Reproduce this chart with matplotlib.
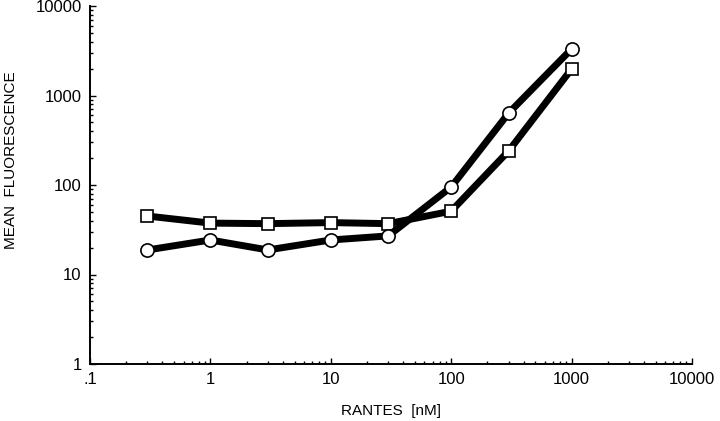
import numpy as np
import matplotlib
matplotlib.use("Agg")
import matplotlib.pyplot as plt
import matplotlib.ticker as tk

# RANTES concentration (nM)
conc = [0.3, 1, 3, 10, 30, 100, 300, 1000]

# mean fluorescence
fl_square = [45, 37.5, 37, 38, 37, 51, 240, 1980]
fl_circle = [18.8, 24.3, 18.8, 24.3, 27, 95, 636, 3310]

xticks = [0.1, 1, 10, 100, 1000, 10000]
xtick_labels = ['.1', '1', '10', '100', '1000', '10000']
yticks = [1, 10, 100, 1000, 10000]
ytick_labels = ['1', '10', '100', '1000', '10000']

plt.rcParams['font.family'] = ['Liberation Sans', 'DejaVu Sans']

fig = plt.figure(figsize=(7.2, 4.21), dpi=100)
ax = fig.add_axes([90/720, 1 - 364/421, 602/720, 358/421])

ax.plot(conc, fl_square, '-', color='black', lw=5, marker='s', ms=9,
        mfc='white', mec='black', mew=1.2, zorder=3)
ax.plot(conc, fl_circle, '-', color='black', lw=5, marker='o', ms=9.5,
        mfc='white', mec='black', mew=1.2, zorder=4)

ax.set_xscale('log')
ax.set_yscale('log')
ax.set_xlim(0.1, 10000)
ax.set_ylim(1, 10000)

ax.set_xticks(xticks)
ax.set_xticklabels(xtick_labels)
ax.set_yticks(yticks)
ax.set_yticklabels(ytick_labels)
ax.xaxis.set_minor_locator(tk.LogLocator(base=10, subs=np.arange(2, 10), numticks=20))
ax.yaxis.set_minor_locator(tk.LogLocator(base=10, subs=np.arange(2, 10), numticks=20))
ax.xaxis.set_minor_formatter(tk.NullFormatter())
ax.yaxis.set_minor_formatter(tk.NullFormatter())

ax.tick_params(which='both', direction='in', width=1, labelsize=12)
ax.tick_params(which='major', length=4, pad=6)
ax.tick_params(which='minor', length=2.5)

for side in ['top', 'right']:
    ax.spines[side].set_visible(False)
for side in ['left', 'bottom']:
    ax.spines[side].set_linewidth(1.4)

ax.set_xlabel('RANTES  [nM]', fontsize=11, labelpad=12)
fig.text(11/720, 1 - 160/421, 'MEAN  FLUORESCENCE', fontsize=11,
         rotation=90, ha='center', va='center')

fig.savefig('out.png', dpi=100)
